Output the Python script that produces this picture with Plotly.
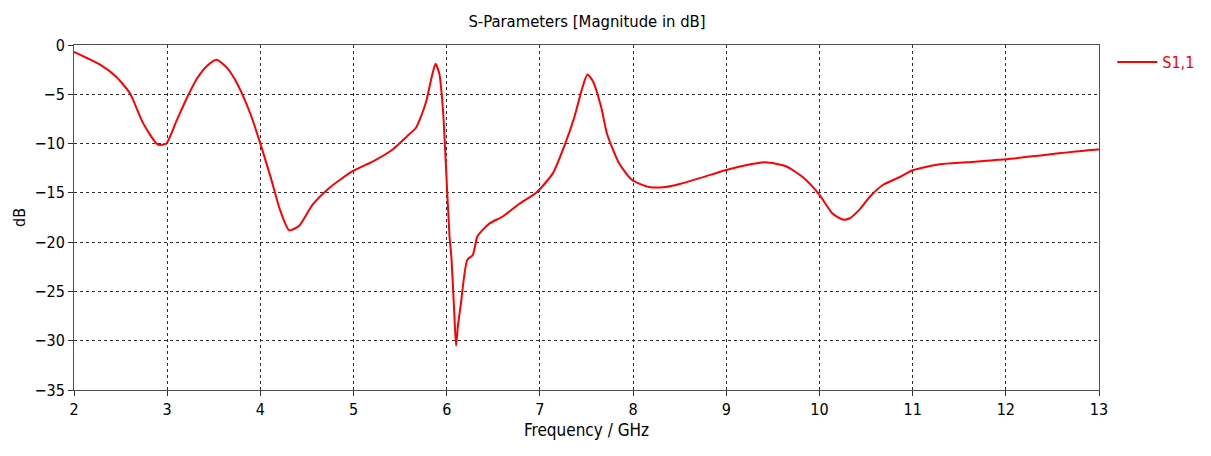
import plotly.graph_objects as go

freq_ghz = [2.00, 2.28, 2.45, 2.60, 2.74, 2.90, 2.99, 3.10, 3.21, 3.32, 3.43, 3.53, 3.64, 3.75, 3.89,
            4.00, 4.11, 4.21, 4.31, 4.42, 4.56, 4.74, 4.99, 5.21, 5.42, 5.57, 5.67, 5.73,
            5.78, 5.84, 5.88, 5.92, 5.96, 5.99, 6.03, 6.05, 6.08, 6.10, 6.12, 6.15, 6.22,
            6.28, 6.33, 6.46, 6.60, 6.78, 6.96, 7.14, 7.26, 7.37, 7.46, 7.51, 7.57, 7.66, 7.72,
            7.85, 7.99, 8.17, 8.35, 8.50, 8.75, 8.99, 9.21, 9.42, 9.64, 9.82, 10.00, 10.14,
            10.25, 10.32, 10.43, 10.55, 10.68, 10.86, 11.00, 11.29, 11.57, 12.00, 12.46, 12.98, 13.00]
s11_db = [-0.7, -2.0, -3.2, -4.9, -7.9, -10.1, -10.0, -7.7, -5.4, -3.4, -2.1, -1.5, -2.3, -3.9, -6.9,
          -10.0, -13.4, -16.7, -18.8, -18.3, -16.2, -14.5, -12.8, -11.8, -10.6, -9.3, -8.4, -7.1,
          -5.7, -3.2, -1.9, -2.9, -6.6, -12.0, -19.4, -21.5, -27.0, -30.5, -28.5, -26.4, -21.8,
          -21.3, -19.4, -18.1, -17.4, -16.1, -15.0, -13.0, -10.3, -7.3, -4.2, -3.0, -3.7, -6.4, -9.0,
          -12.0, -13.7, -14.4, -14.4, -14.1, -13.4, -12.7, -12.2, -11.9, -12.3, -13.4, -15.2, -17.1,
          -17.7, -17.6, -16.7, -15.3, -14.2, -13.4, -12.7, -12.1, -11.9, -11.6, -11.1, -10.6, -10.6]

x_ticks = [2, 3, 4, 5, 6, 7, 8, 9, 10, 11, 12, 13]
y_ticks = [0, -5, -10, -15, -20, -25, -30, -35]

font_family = "DejaVu Sans Condensed, Liberation Sans, sans-serif"

fig = go.Figure()
fig.add_trace(go.Scatter(x=freq_ghz, y=s11_db, mode="lines", name="S1,1",
                         line=dict(color="#ff0000", width=2, shape="spline", smoothing=0.6)))

axis_common = dict(showgrid=True, gridcolor="#303030", gridwidth=1, griddash="3px,3px",
                   zeroline=False, showline=True, linecolor="#505050", linewidth=1, mirror=True,
                   ticks="outside", ticklen=5, tickcolor="#303030",
                   tickfont=dict(family=font_family, size=16, color="#000000"))

fig.update_layout(
    width=1211, height=456,
    margin=dict(l=74, r=111, t=45, b=66),
    paper_bgcolor="white", plot_bgcolor="white",
    font=dict(family=font_family, size=16, color="#000000"),
    title=dict(text="S-Parameters [Magnitude in dB]", x=(74 + 513) / 1211, xanchor="center",
               y=1 - 21 / 456, yanchor="middle", font=dict(size=16.5)),
    xaxis=dict(range=[2, 13], tickvals=x_ticks,
               title=dict(text="Frequency / GHz", standoff=5, font=dict(size=17)),
               **axis_common),
    yaxis=dict(range=[-35, 0], tickvals=y_ticks,
               title=dict(text="dB", standoff=4, font=dict(size=16)),
               **axis_common),
    legend=dict(x=1.012, y=1.0, xanchor="left", yanchor="top", bgcolor="rgba(0,0,0,0)",
                itemwidth=40, font=dict(color="#ff0000", size=16)),
    showlegend=True,
)

fig.write_html("out.html")
